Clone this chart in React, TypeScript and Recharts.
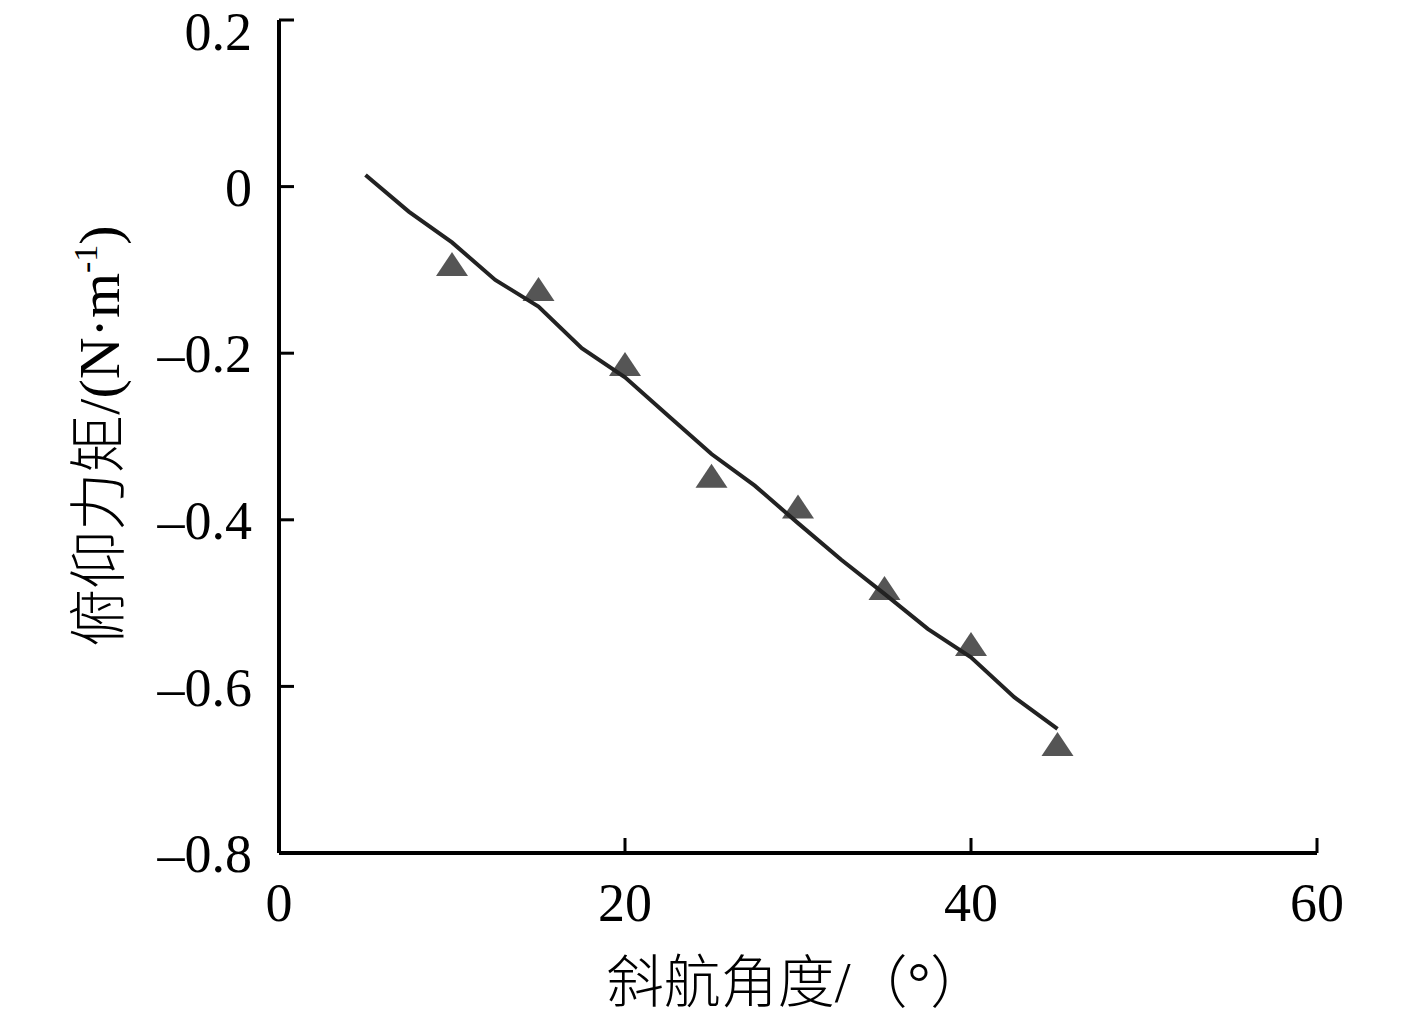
import React from "react";
import { ScatterChart, Scatter, XAxis, YAxis } from "recharts";

// measured pitching moment (triangles)
const angles = [10, 15, 20, 25, 30, 35, 40, 45];
const measured = [-0.093, -0.123, -0.213, -0.347, -0.384, -0.482, -0.549, -0.669];

// computed curve
const fitAngles = [5, 7.5, 10, 12.5, 15, 17.5, 20, 22.5, 25, 27.5, 30, 32.5, 35, 37.5, 40, 42.5, 45];
const fitted = [
  0.014, -0.03, -0.067, -0.112, -0.144, -0.194, -0.229, -0.275, -0.321, -0.359, -0.404, -0.448,
  -0.489, -0.531, -0.565, -0.613, -0.651,
];

const xTicks = [0, 20, 40, 60];
const yTicks = [-0.8, -0.6, -0.4, -0.2, 0, 0.2];

const X_TITLE = "斜航角度/（°）";
const Y_TITLE = "俯仰力矩/(N·m";

const FONT = '"Liberation Serif", "Noto Sans CJK SC", serif';

const pointData = angles.map((x, i) => ({ x, y: measured[i] }));
const lineData = fitAngles.map((x, i) => ({ x, y: fitted[i] }));

function Triangle(props: any) {
  const { cx, cy } = props;
  if (cx == null || cy == null) return <g />;
  const w = 32;
  const h = 24;
  return (
    <polygon
      points={`${cx},${cy - h / 2} ${cx - w / 2},${cy + h / 2} ${cx + w / 2},${cy + h / 2}`}
      fill="#555555"
    />
  );
}

function NoDot() {
  return <g />;
}

function fmtY(v: number): string {
  if (v < 0) return "–" + String(Math.abs(v));
  return String(v);
}

const tickStyle = { fontSize: 54, fill: "#000", fontFamily: FONT };

export default function App() {
  return (
    <div style={{ position: "absolute", left: 0, top: 0, background: "#fff" }}>
      <ScatterChart
        width={1417}
        height={1016}
        margin={{ top: 20, right: 100, bottom: 0, left: 0 }}
      >
        <XAxis
          type="number"
          dataKey="x"
          domain={[0, 60]}
          ticks={xTicks}
          height={163}
          axisLine={{ stroke: "#000", strokeWidth: 4 }}
          tickLine={{ stroke: "#000", strokeWidth: 3 }}
          tickSize={-15}
          tickMargin={45}
          tick={tickStyle}
          label={{
            content: () => (
              <text
                x={797}
                y={1002}
                textAnchor="middle"
                fontSize={57}
                fontFamily={FONT}
                fontWeight={300}
                fill="#000"
              >
                {X_TITLE}
              </text>
            ),
          }}
        />
        <YAxis
          type="number"
          dataKey="y"
          domain={[-0.8, 0.2]}
          ticks={yTicks}
          width={279}
          axisLine={{ stroke: "#000", strokeWidth: 4 }}
          tickLine={{ stroke: "#000", strokeWidth: 3 }}
          tickSize={-15}
          tickMargin={42}
          tick={tickStyle}
          tickFormatter={fmtY}
          label={{
            content: () => (
              <text
                x={0}
                y={0}
                transform="translate(119,436) rotate(-90)"
                textAnchor="middle"
                fontSize={58}
                fontFamily={FONT}
                fontWeight={300}
                fill="#000"
              >
                {Y_TITLE}
                <tspan fontSize={34} dy={-22}>
                  -1
                </tspan>
                <tspan dy={22}>)</tspan>
              </text>
            ),
          }}
        />
        <Scatter data={pointData} shape={Triangle} isAnimationActive={false} />
        <Scatter
          data={lineData}
          shape={NoDot}
          line={{ stroke: "#222", strokeWidth: 4 }}
          lineType="joint"
          isAnimationActive={false}
        />
      </ScatterChart>
    </div>
  );
}
